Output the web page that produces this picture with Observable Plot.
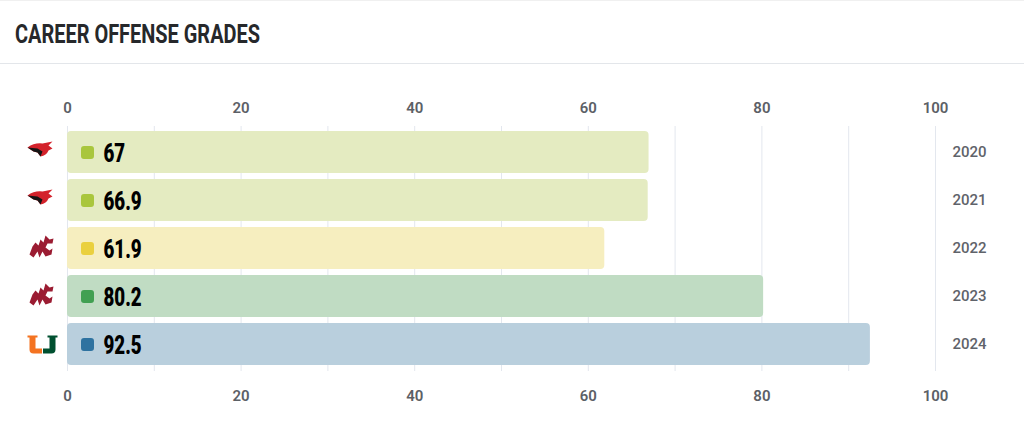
<!DOCTYPE html>
<html>
<head>
<meta charset="utf-8">
<script src="https://cdn.jsdelivr.net/npm/d3@7"></script>
<script src="https://cdn.jsdelivr.net/npm/@observablehq/plot@0.6"></script>
<style>
  html, body { margin: 0; padding: 0; background: #fff; }
  #wrap { width: 1024px; height: 421px; overflow: hidden; border-top: 1px solid #f0f0f0; box-sizing: border-box; }
  #title {
    height: 63px; box-sizing: border-box; border-bottom: 1px solid #e3e6ea;
    padding: 18px 0 0 15px; white-space: nowrap;
  }
  #title span {
    display: inline-block; transform-origin: 0 50%;
    font-family: Roboto, sans-serif; font-weight: bold; font-size: 26px; color: #26282b;
  }
  svg { display: block; }
</style>
</head>
<body>
<div id="wrap">
  <div id="title"><span>CAREER OFFENSE GRADES</span></div>
  <div id="chart"></div>
</div>
<script>
const years = ["2020", "2021", "2022", "2023", "2024"];
const grades = [67, 66.9, 61.9, 80.2, 92.5];
const teams = ["cardinal", "cardinal", "cougar", "cougar", "miami"];
const xTicks = [0, 20, 40, 60, 80, 100];
const gridTicks = [0, 10, 20, 30, 40, 50, 60, 70, 80, 90, 100];

const rows = years.map((y, i) => ({year: y, grade: grades[i], team: teams[i], label: String(grades[i])}));

// colours (style)
const barFill = {"2020": "#e4ebc1", "2021": "#e4ebc1", "2022": "#f6eebf", "2023": "#c0dcc3", "2024": "#b9cfdd"};
const chipFill = {"2020": "#a9c63d", "2021": "#a9c63d", "2022": "#ead03f", "2023": "#41a052", "2024": "#2e72a0"};

// rounded square symbol
const roundSquare = {
  draw(ctx) {
    const h = 6.5, r = 3;
    ctx.moveTo(-h + r, -h);
    ctx.arcTo(h, -h, h, h, r);
    ctx.arcTo(h, h, -h, h, r);
    ctx.arcTo(-h, h, -h, -h, r);
    ctx.arcTo(-h, -h, h, -h, r);
    ctx.closePath();
  }
};
// simple logo glyphs
const cardinalHead = {
  draw(ctx) {
    ctx.moveTo(-13, -2);
    ctx.quadraticCurveTo(-6, -7, 2, -6);
    ctx.lineTo(12, -8);
    ctx.lineTo(8, -4);
    ctx.lineTo(12, -1);
    ctx.lineTo(8, 1);
    ctx.quadraticCurveTo(6, 6, 0, 7);
    ctx.lineTo(-3, 3);
    ctx.lineTo(-7, 2);
    ctx.closePath();
  }
};
const cardinalMask = {
  draw(ctx) {
    ctx.moveTo(-13, -2);
    ctx.lineTo(-7, 2);
    ctx.lineTo(-3, 3);
    ctx.lineTo(0, 7);
    ctx.lineTo(2, 2);
    ctx.lineTo(-3, -1);
    ctx.closePath();
  }
};
const cougar = {
  draw(ctx) {
    ctx.moveTo(-12, 8);
    ctx.lineTo(-9, 0);
    ctx.lineTo(-6, -4);
    ctx.lineTo(-3, -1);
    ctx.lineTo(-1, -7);
    ctx.lineTo(2, -4);
    ctx.lineTo(4, -11);
    ctx.lineTo(8, -7);
    ctx.lineTo(12, -8);
    ctx.lineTo(11, -3);
    ctx.lineTo(6, -3);
    ctx.lineTo(4, 1);
    ctx.lineTo(8, 4);
    ctx.lineTo(11, 2);
    ctx.lineTo(10, 8);
    ctx.lineTo(4, 10);
    ctx.lineTo(1, 5);
    ctx.lineTo(-2, 11);
    ctx.lineTo(-4, 5);
    ctx.lineTo(-8, 11);
    ctx.closePath();
  }
};
const uLeft = {
  draw(ctx) {
    ctx.moveTo(-15, -9); ctx.lineTo(-5, -9); ctx.lineTo(-5, -7); ctx.lineTo(-7, -7);
    ctx.lineTo(-7, 4); ctx.lineTo(-0.5, 4); ctx.lineTo(-0.5, 9); ctx.lineTo(-9, 9);
    ctx.quadraticCurveTo(-13, 9, -13, 5);
    ctx.lineTo(-13, -7); ctx.lineTo(-15, -7); ctx.closePath();
  }
};
const uRight = {
  draw(ctx) {
    ctx.moveTo(15, -9); ctx.lineTo(5, -9); ctx.lineTo(5, -7); ctx.lineTo(7, -7);
    ctx.lineTo(7, 4); ctx.lineTo(0.5, 4); ctx.lineTo(0.5, 9); ctx.lineTo(9, 9);
    ctx.quadraticCurveTo(13, 9, 13, 5);
    ctx.lineTo(13, -7); ctx.lineTo(15, -7); ctx.closePath();
  }
};

const byTeam = t => rows.filter(d => d.team === t);

const chart = Plot.plot({
  width: 1024,
  height: 356,
  marginLeft: 67,
  marginRight: 89,
  marginTop: 62,
  marginBottom: 49,
  style: {fontFamily: "Roboto, sans-serif", background: "#fff", overflow: "visible"},
  x: {domain: [0, 100]},
  y: {domain: years, paddingInner: 0.12, paddingOuter: 0.08},
  marks: [
    Plot.gridX(gridTicks, {stroke: "#e3e7ee", strokeOpacity: 1}),
    Plot.axisX(xTicks, {anchor: "top", tickSize: 0, tickPadding: 14, fontSize: 15, fontWeight: 600, fill: "#5c6066", label: null}),
    Plot.axisX(xTicks, {anchor: "bottom", tickSize: 0, tickPadding: 19, fontSize: 15, fontWeight: 600, fill: "#5c6066", label: null}),
    Plot.axisY({anchor: "right", tickSize: 0, tickPadding: 17, fontSize: 15, fontWeight: 500, fill: "#5f636a", label: null}),
    Plot.barX(rows, {x: "grade", y: "year", fill: d => barFill[d.year], rx: 4}),
    Plot.dot(rows, {x: 0, y: "year", dx: 20, symbol: roundSquare, fill: d => chipFill[d.year], stroke: "none"}),
    Plot.text(rows, {x: 0, y: "year", dx: 36, text: "label", textAnchor: "start",
      fontFamily: "Roboto, sans-serif", className: "vlabel",
      fontWeight: 900, fontSize: 26, fill: "#000", dy: 1.5}),
    Plot.dot(byTeam("cardinal"), {x: 0, y: "year", dx: -27, dy: -3, symbol: cardinalHead, fill: "#d3222b", stroke: "none"}),
    Plot.dot(byTeam("cardinal"), {x: 0, y: "year", dx: -27, dy: -3, symbol: cardinalMask, fill: "#151515", stroke: "none"}),
    Plot.dot(byTeam("cougar"), {x: 0, y: "year", dx: -26, dy: -2, symbol: cougar, fill: "#9b1c32", stroke: "none"}),
    Plot.dot(byTeam("miami"), {x: 0, y: "year", dx: -25, symbol: uLeft, fill: "#f47321", stroke: "none"}),
    Plot.dot(byTeam("miami"), {x: 0, y: "year", dx: -25, symbol: uRight, fill: "#005030", stroke: "none"})
  ]
});
document.getElementById("chart").appendChild(chart);

// condensed look: compress value labels horizontally without moving them
chart.querySelectorAll(".vlabel text").forEach(t => {
  const w = t.getComputedTextLength();
  t.setAttribute("textLength", (w * 0.72).toFixed(1));
  t.setAttribute("lengthAdjust", "spacingAndGlyphs");
});
// title condensed to the reference width
const span = document.querySelector("#title span");
span.style.transform = `scaleX(${245 / span.getBoundingClientRect().width})`;
</script>
</body>
</html>
